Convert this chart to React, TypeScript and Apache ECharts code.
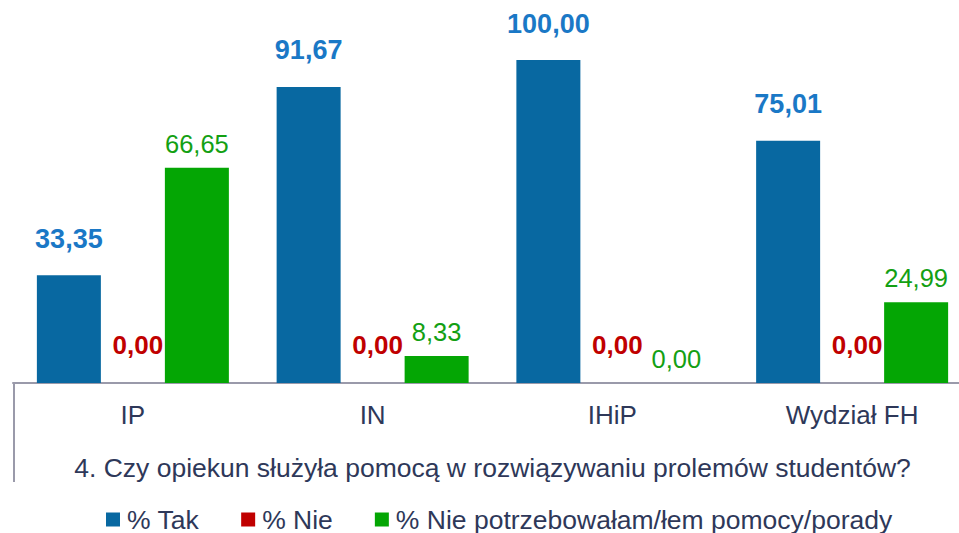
import React, { useEffect, useRef } from "react";
import * as echarts from "echarts";

const categories = ["IP", "IN", "IHiP", "Wydział FH"];
const tak = [33.35, 91.67, 100.0, 75.01];
const nie = [0.0, 0.0, 0.0, 0.0];
const niePotrz = [66.65, 8.33, 0.0, 24.99];
const seriesNames = ["% Tak", "% Nie", "% Nie potrzebowałam/łem pomocy/porady"];
const axisTitle = "4. Czy opiekun służyła pomocą w rozwiązywaniu prolemów studentów?";

const FONT = "Liberation Sans, Arial, sans-serif";
const TEXT = "#2e3859";

const fmt = (p: any) => Number(p.value).toFixed(2).replace(".", ",");

export default function App() {
  const ref = useRef<HTMLDivElement>(null);
  useEffect(() => {
    if (!ref.current) return;
    const chart = echarts.init(ref.current, null, { renderer: "svg" });
    chart.setOption({
      animation: false,
      textStyle: { fontFamily: FONT },
      grid: { left: 13, right: 0, top: 60, bottom: 150, containLabel: false },
      legend: {
        left: 101,
        top: 501,
        itemWidth: 14,
        itemHeight: 14,
        itemGap: 42,
        icon: "rect",
        textStyle: { fontSize: 26.5, color: TEXT, fontFamily: FONT, padding: [0, 0, 0, 2] },
        data: seriesNames,
      },
      xAxis: {
        type: "category",
        data: categories,
        axisLine: { show: true, lineStyle: { color: "#9a9aaa", width: 2 } },
        axisTick: { show: false },
        axisLabel: { fontSize: 26, color: TEXT, margin: 19, fontFamily: FONT },
        name: axisTitle,
        nameLocation: "middle",
        nameGap: 71,
        nameTextStyle: { fontSize: 26.5, color: TEXT, fontFamily: FONT },
      },
      yAxis: { type: "value", min: 0, max: 100, show: false, splitLine: { show: false } },
      graphic: [
        {
          type: "line",
          shape: { x1: 14, y1: 383, x2: 14, y2: 482 },
          style: { stroke: "#9a9aaa", lineWidth: 2 },
        },
      ],
      series: [
        {
          name: seriesNames[0],
          type: "bar",
          data: tak,
          barWidth: 64,
          barGap: "0%",
          itemStyle: { color: "#0868a1" },
          label: {
            show: true,
            position: "top",
            distance: 23,
            formatter: fmt,
            fontSize: 27,
            fontWeight: "bold",
            color: "#1a78c6",
            fontFamily: FONT,
          },
        },
        {
          name: seriesNames[1],
          type: "bar",
          data: nie,
          barWidth: 64,
          barGap: "0%",
          itemStyle: { color: "#c00000" },
          label: {
            show: true,
            position: "top",
            distance: 25,
            offset: [5, 0],
            formatter: fmt,
            fontSize: 26,
            fontWeight: "bold",
            color: "#c00000",
            fontFamily: FONT,
          },
        },
        {
          name: seriesNames[2],
          type: "bar",
          data: niePotrz,
          barWidth: 64,
          barGap: "0%",
          itemStyle: { color: "#04a604" },
          label: {
            show: true,
            position: "top",
            distance: 11,
            formatter: fmt,
            fontSize: 25.5,
            color: "#13a013",
            fontFamily: FONT,
          },
        },
      ],
    });
    return () => chart.dispose();
  }, []);
  return (
    <div style={{ position: "absolute", left: 0, top: 0, width: 959, height: 533, overflow: "hidden" }}>
      <div ref={ref} style={{ width: 972, height: 533 }} />
    </div>
  );
}
